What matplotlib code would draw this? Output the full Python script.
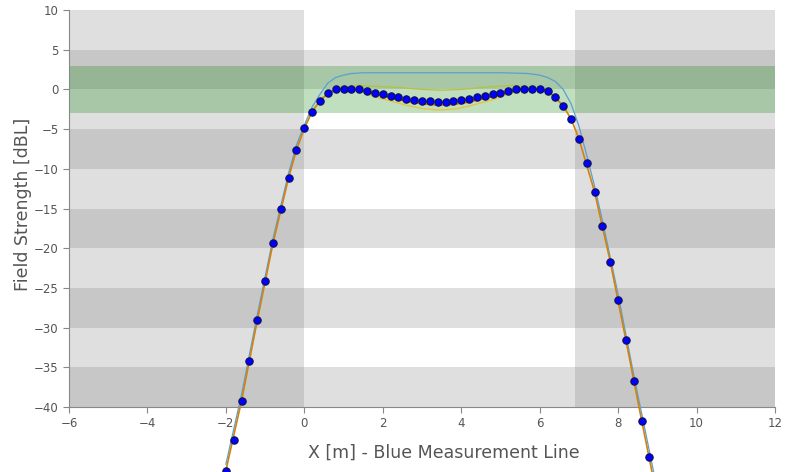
import numpy as np
import matplotlib.pyplot as plt

# measured points (blue dots), 0.2 m spacing
meas_x = [-2.0, -1.8, -1.6, -1.4, -1.2, -1.0, -0.8, -0.6, -0.4, -0.2,
          0.0, 0.2, 0.4, 0.6, 0.8, 1.0, 1.2, 1.4, 1.6, 1.8,
          2.0, 2.2, 2.4, 2.6, 2.8, 3.0, 3.2, 3.4, 3.6, 3.8,
          4.0, 4.2, 4.4, 4.6, 4.8, 5.0, 5.2, 5.4, 5.6, 5.8,
          6.0, 6.2, 6.4, 6.6, 6.8, 7.0, 7.2, 7.4, 7.6, 7.8,
          8.0, 8.2, 8.4, 8.6, 8.8]
meas_y = [-48.0, -44.1, -39.2, -34.2, -29.1, -24.1, -19.4, -15.0, -11.1, -7.6,
          -4.9, -2.8, -1.4, -0.5, 0.0, 0.1, 0.1, 0.0, -0.2, -0.4,
          -0.6, -0.8, -1.0, -1.2, -1.3, -1.5, -1.5, -1.6, -1.6, -1.5,
          -1.3, -1.2, -1.0, -0.8, -0.6, -0.4, -0.2, 0.0, 0.1, 0.1,
          0.0, -0.2, -1.0, -2.1, -3.7, -6.2, -9.3, -12.9, -17.2, -21.7,
          -26.5, -31.6, -36.7, -41.7, -46.3]

# simulated curves
blue_x = [-2.0, -1.6, -1.2, -0.8, -0.4, -0.2, 0.0, 0.2, 0.4, 0.6, 0.8, 1.0, 1.2, 1.5,
          2.0, 3.0, 4.0, 5.0, 5.4, 5.7, 6.0, 6.2, 6.4, 6.6, 6.8, 7.0, 7.2, 7.4, 7.6,
          8.0, 8.4, 8.8, 9.0]
blue_y = [-47.2, -38.4, -28.4, -18.8, -10.5, -7.0, -4.5, -2.2, -0.6, 0.8, 1.5, 1.8, 2.0, 2.1,
          2.1, 2.1, 2.1, 2.1, 2.05, 2.0, 1.8, 1.5, 1.0, 0.0, -1.8, -4.6, -8.3, -12.2, -16.5,
          -25.8, -36.0, -45.6, -50.5]

orange_x = [-2.2, -2.0, -1.6, -1.2, -0.8, -0.4, -0.2, 0.0, 0.2, 0.4, 0.6, 0.8, 1.0, 1.2, 1.4,
            2.0, 2.6, 3.0, 3.4, 3.8, 4.2, 4.8, 5.4, 5.6, 5.8, 6.0, 6.2, 6.4, 6.6, 6.8,
            7.0, 7.4, 7.8, 8.2, 8.6, 9.0]
orange_y = [-52.5, -48.0, -39.2, -29.1, -19.4, -11.1, -7.6, -4.9, -2.8, -1.4, -0.5, 0.0, 0.1, 0.1, -0.1,
            -0.8, -1.5, -1.8, -2.0, -1.9, -1.6, -0.9, -0.1, 0.1, 0.1, 0.0, -0.2, -1.0, -2.1, -3.7,
            -6.2, -12.9, -21.7, -31.6, -41.7, -51.5]

olive_x = [1.0, 1.3, 1.8, 2.5, 3.0, 3.5, 4.0, 4.7, 5.3, 5.7, 6.0]
olive_y = [0.1, 0.5, 0.4, 0.2, 0.0, -0.1, 0.0, 0.3, 0.5, 0.3, 0.0]

yellow_x = [1.2, 1.5, 2.0, 2.6, 3.0, 3.4, 3.8, 4.2, 4.8, 5.2, 5.6]
yellow_y = [0.0, -0.4, -1.2, -2.0, -2.4, -2.6, -2.5, -2.1, -1.3, -0.6, 0.0]

band_lo = [0, -10, -20, -30, -40]
xlim = (-6, 12)
ylim = (-40, 10)

fig = plt.figure(figsize=(8, 4.72), dpi=100)
ax = fig.add_axes([0.08625, 0.1377, 0.8825, 0.8411])

for lo in band_lo:
    ax.axhspan(lo, lo + 5, color='gray', alpha=0.25, lw=0, zorder=0)
ax.axvspan(-6, 0, color='gray', alpha=0.25, lw=0, zorder=0)
ax.axvspan(6.9, 12, color='gray', alpha=0.25, lw=0, zorder=0)
ax.axhspan(-3, 3, color='green', alpha=0.25, lw=0, zorder=1)

ax.plot(blue_x, blue_y, color='#5a9fd4', lw=0.9, clip_on=False, zorder=3)
ax.plot(yellow_x, yellow_y, color='#f0c030', lw=0.9, zorder=3)
ax.plot(olive_x, olive_y, color='#b8c040', lw=0.9, zorder=3)
ax.plot(orange_x, orange_y, color='#d4820a', lw=1.2, clip_on=False, zorder=4)
ax.plot(meas_x, meas_y, 'o', color='#0000ff', mec='#101050', mew=0.8, ms=5.3,
        clip_on=False, zorder=5)

ax.set_xlim(xlim)
ax.set_ylim(ylim)
ax.set_xticks(np.arange(-6, 13, 2))
ax.set_yticks(np.arange(-40, 11, 5))
ax.set_facecolor('white')
for s in ['top', 'right']:
    ax.spines[s].set_visible(False)
for s in ['left', 'bottom']:
    ax.spines[s].set_color('#888888')
ax.tick_params(colors='#888888', labelcolor='#555555', labelsize=8.5, length=4)
ax.set_xlabel('X [m] - Blue Measurement Line', fontsize=12.5, color='#555555')
ax.set_ylabel('Field Strength [dBL]', fontsize=12.5, color='#555555')
ax.xaxis.set_label_coords(0.531, -0.093)
ax.yaxis.set_label_coords(-0.053, 0.51)

fig.savefig('out.png', dpi=100)
